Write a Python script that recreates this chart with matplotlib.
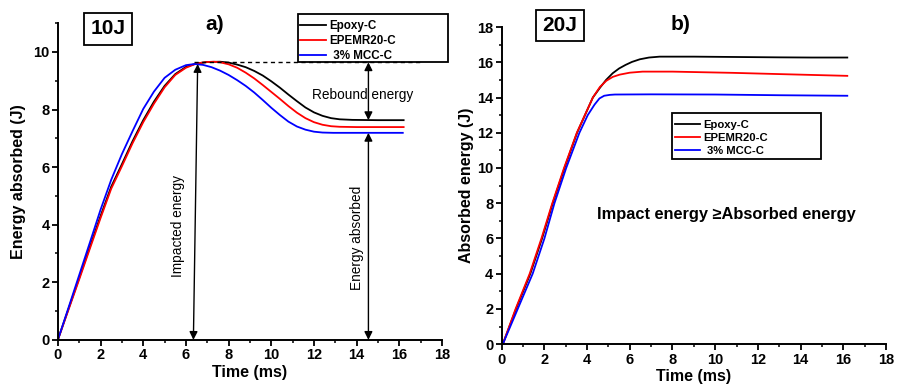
import numpy as np
import matplotlib
matplotlib.use("Agg")
import matplotlib.pyplot as plt
from matplotlib.ticker import MultipleLocator
from matplotlib.patches import Rectangle

plt.rcParams['font.family'] = ['Liberation Sans', 'DejaVu Sans']
plt.rcParams['font.weight'] = 'bold'

labels = ['Epoxy-C', 'EPEMR20-C', ' 3% MCC-C']
colors = ['black', 'red', 'blue']

# ---- panel a) 10 J ----
a_epoxy_t = [0, 0.5, 1.0, 1.5, 2.0, 2.5, 3.0, 3.5, 4.0, 4.5, 5.0, 5.5, 6.0, 6.5, 7.0, 7.6, 8.0, 8.4, 8.8,
             9.2, 9.6, 10.0, 10.4, 10.8, 11.2, 11.6, 12.0, 12.4, 12.8, 13.2, 13.8, 15.0, 16.2]
a_epoxy_e = [0, 1.08, 2.15, 3.23, 4.3, 5.32, 6.1, 6.9, 7.63, 8.27, 8.82, 9.23, 9.48, 9.6, 9.65, 9.66, 9.63,
             9.56, 9.47, 9.34, 9.18, 8.98, 8.76, 8.52, 8.29, 8.07, 7.9, 7.78, 7.7, 7.66, 7.64, 7.63, 7.63]
a_epmr_t = [0, 0.5, 1.0, 1.5, 2.0, 2.5, 3.0, 3.5, 4.0, 4.5, 5.0, 5.5, 6.0, 6.5, 7.0, 7.3, 7.6, 8.0, 8.4,
            8.8, 9.2, 9.6, 10.0, 10.4, 10.8, 11.2, 11.6, 12.0, 12.4, 12.8, 13.2, 14.0, 16.2]
a_epmr_e = [0, 1.05, 2.1, 3.17, 4.23, 5.25, 6.03, 6.83, 7.56, 8.2, 8.77, 9.2, 9.45, 9.6, 9.65, 9.66, 9.64,
            9.57, 9.45, 9.28, 9.08, 8.85, 8.61, 8.37, 8.12, 7.89, 7.7, 7.56, 7.47, 7.42, 7.4, 7.39, 7.39]
a_mcc_t = [0, 0.5, 1.0, 1.5, 2.0, 2.5, 3.0, 3.5, 4.0, 4.5, 5.0, 5.5, 6.0, 6.4, 6.8, 7.2, 7.6, 8.0, 8.4,
           8.8, 9.2, 9.6, 10.0, 10.4, 10.8, 11.2, 11.6, 12.0, 12.4, 12.9, 14.0, 16.16]
a_mcc_e = [0, 1.12, 2.25, 3.38, 4.52, 5.56, 6.45, 7.25, 8.02, 8.62, 9.1, 9.38, 9.54, 9.58, 9.55, 9.47,
           9.35, 9.2, 9.02, 8.82, 8.59, 8.33, 8.06, 7.81, 7.58, 7.41, 7.3, 7.23, 7.2, 7.19, 7.19, 7.19]

# ---- panel b) 20 J ----
b_epoxy_t = [0.05, 0.67, 1.34, 1.89, 2.39, 2.94, 3.53, 4.27, 4.6, 4.89, 5.2, 5.5, 5.8, 6.1, 6.47, 6.9,
             7.4, 9.0, 11.0, 13.0, 14.5, 16.19]
b_epoxy_e = [0, 2, 4, 6, 8, 10, 12, 14, 14.55, 15.0, 15.38, 15.65, 15.85, 16.02, 16.17, 16.27,
             16.32, 16.32, 16.3, 16.28, 16.27, 16.27]
b_epmr_t = [0.05, 0.65, 1.31, 1.86, 2.37, 2.92, 3.52, 4.27, 4.6, 4.9, 5.2, 5.53, 6.0, 6.6, 8.0,
            10.84, 13.0, 16.19]
b_epmr_e = [0, 2, 4, 6, 8, 10, 12, 14, 14.6, 14.95, 15.17, 15.3, 15.41, 15.47, 15.47,
            15.4, 15.33, 15.23]
b_mcc_t = [0.05, 0.75, 1.45, 2.0, 2.47, 3.02, 3.64, 4.03, 4.35, 4.58, 4.8, 5.06, 5.3, 7.0, 10.0,
           13.0, 16.19]
b_mcc_e = [0, 2, 4, 6, 8, 10, 12, 13, 13.6, 13.95, 14.1, 14.15, 14.17, 14.18, 14.17,
           14.13, 14.1]

impact_peak = 9.64
rebound_x = 14.55

W, H = 904, 392
fig = plt.figure(figsize=(W / 100, H / 100), dpi=100)
ax1 = fig.add_axes([0.064, 0.133, 0.425, 0.808])
ax2 = fig.add_axes([0.555, 0.122, 0.425, 0.809])


def style(ax, ymax):
    ax.set_xlim(0, 18)
    ax.set_ylim(0, ymax)
    ax.xaxis.set_major_locator(MultipleLocator(2))
    ax.xaxis.set_minor_locator(MultipleLocator(1))
    ax.yaxis.set_major_locator(MultipleLocator(2))
    ax.yaxis.set_minor_locator(MultipleLocator(1))
    for s in ['top', 'right']:
        ax.spines[s].set_visible(False)
    for s in ['left', 'bottom']:
        ax.spines[s].set_linewidth(1.4)
    ax.tick_params(which='major', direction='out', length=4, width=1.3, labelsize=10.5, pad=2)
    ax.tick_params(which='minor', direction='out', length=2.5, width=1.1)
    for lab in ax.get_xticklabels() + ax.get_yticklabels():
        lab.set_fontweight('bold')
    ax.set_xlabel('Time (ms)', fontsize=11.5, fontweight='bold', labelpad=2)


def framed_legend(ax, anchor_px, box_px, fs):
    # legend without its own frame, plus a wider box as in the original
    leg = ax.legend(loc='upper left', bbox_to_anchor=(anchor_px[0] / W, 1 - anchor_px[1] / H),
                    bbox_transform=fig.transFigure, fontsize=fs, frameon=False, borderaxespad=0,
                    borderpad=0, labelspacing=0.25, handlelength=2.2, handletextpad=0.35)
    x0, y0, x1, y1 = box_px
    fig.patches.append(Rectangle((x0 / W, 1 - y1 / H), (x1 - x0) / W, (y1 - y0) / H,
                                 transform=fig.transFigure, fill=False, edgecolor='black', lw=1.3))
    return leg


# panel a
for t, e, c, l in zip([a_epoxy_t, a_epmr_t, a_mcc_t], [a_epoxy_e, a_epmr_e, a_mcc_e], colors, labels):
    ax1.plot(t, e, color=c, lw=1.3, label=l)
style(ax1, 11)
ax1.set_ylabel('Energy absorbed (J)', fontsize=11.5, fontweight='bold', labelpad=5)
framed_legend(ax1, (300, 20), (298, 14, 448, 62), 8.4)

ax1.plot([6.4, 17.05], [impact_peak, impact_peak], color='black', lw=1, ls=(0, (3, 2.5)), clip_on=False)
arr = dict(arrowstyle='<|-|>', color='black', lw=1, shrinkA=0, shrinkB=0, mutation_scale=12)
ax1.annotate('', xy=(6.55, 9.58), xytext=(6.35, 0), arrowprops=arr)
ax1.annotate('', xy=(rebound_x, impact_peak), xytext=(rebound_x, 7.63), arrowprops=arr)
ax1.annotate('', xy=(rebound_x, 7.19), xytext=(rebound_x, 0), arrowprops=arr)
ax1.text(5.64, 3.96, 'Impacted energy', rotation=90, ha='center', va='center', fontsize=9.8, fontweight='normal')
ax1.text(14.0, 3.54, 'Energy absorbed', rotation=90, ha='center', va='center', fontsize=9.8, fontweight='normal')
ax1.text(14.26, 8.5, 'Rebound energy', ha='center', va='center', fontsize=9.8, fontweight='normal')

# panel b
for t, e, c, l in zip([b_epoxy_t, b_epmr_t, b_mcc_t], [b_epoxy_e, b_epmr_e, b_mcc_e], colors, labels):
    ax2.plot(t, e, color=c, lw=1.3, label=l)
style(ax2, 18)
ax2.set_ylabel('Absorbed energy (J)', fontsize=11.5, fontweight='bold', labelpad=2)
framed_legend(ax2, (675, 120), (672, 113, 821, 159), 8.1)
ax2.text(0.586, 0.41, 'Impact energy \u2265Absorbed energy', transform=ax2.transAxes, ha='center',
         va='center', fontsize=11.8, fontweight='bold')

# panel titles
box = dict(boxstyle='square,pad=0.3', facecolor='white', edgecolor='black', linewidth=1.3)
fig.text(108 / W, 1 - 29 / H, '10J', fontsize=15, fontweight='bold', ha='center', va='center', bbox=box)
fig.text(560 / W, 1 - 25.5 / H, '20J', fontsize=15, fontweight='bold', ha='center', va='center', bbox=box)
fig.text(214.5 / W, 1 - 25 / H, 'a)', fontsize=15, fontweight='bold', ha='center', va='center')
fig.text(681 / W, 1 - 25 / H, 'b)', fontsize=15, fontweight='bold', ha='center', va='center')

fig.savefig('out.png', dpi=100)
